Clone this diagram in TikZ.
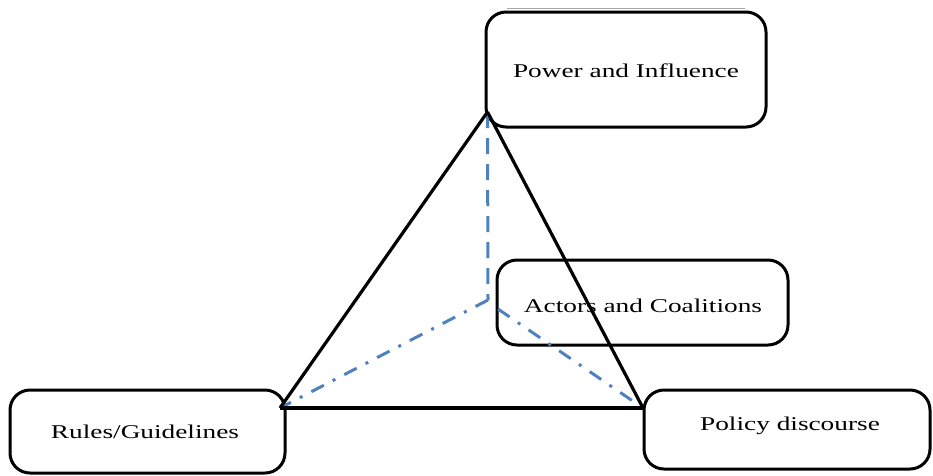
\documentclass[tikz,border=0pt]{standalone}
\usepackage{fontspec}
\setmainfont{Liberation Serif}[FakeStretch=1.4]
\begin{document}
\begin{tikzpicture}[x=1pt,y=-1pt,
  box/.style={draw=black,line width=3pt,rounded corners=20pt,inner sep=0pt},
  lbl/.style={anchor=base,inner sep=0pt,font=\fontsize{19.5}{22}\selectfont},
  side/.style={draw=black,line width=3.2pt},
  bluedash/.style={color={rgb,255:red,79;green,129;blue,189},line width=3pt,dash pattern=on 16pt off 10pt},
  bluedot/.style={color={rgb,255:red,79;green,129;blue,189},line width=3pt,dash pattern=on 14pt off 10pt on 3pt off 10pt}]
\useasboundingbox (0,0) rectangle (933,475);
% boxes
\node[box,minimum width=280pt,minimum height=115pt] (pbox) at (626,69.5) {};
\node[box,minimum width=291pt,minimum height=85pt] (abox) at (642.5,302.5) {};
\node[box,minimum width=275pt,minimum height=83pt] (rbox) at (147.5,431.5) {};
\node[box,minimum width=286pt,minimum height=79pt] (dbox) at (787,429.5) {};
\draw[gray!70,line width=1pt] (507,8.5) -- (745,8.5);
% labels
\node[lbl] (ptext) at (626,77) {Power and Influence};
\node[lbl] (atext) at (643,312) {Actors and Coalitions};
\node[lbl] (rtext) at (145,438) {Rules/Guidelines};
\node[lbl] (dtext) at (790,430) {Policy discourse};
% vertices
\coordinate (apex) at (487.5,112);
\coordinate (lv) at (280,408);
\coordinate (rv) at (643,408);
\coordinate (mid) at (488,300);
\coordinate (mid2) at (498,309);
% blue lines
\draw[bluedash] (apex) -- (mid);
\draw[bluedot] (mid) -- (lv);
\draw[bluedot] (mid2) -- (rv);
% triangle
\draw[side] (apex) -- (lv);
\draw[side] (apex) -- (rv);
\draw[side] (lv) -- (rv);
\end{tikzpicture}
\end{document}
